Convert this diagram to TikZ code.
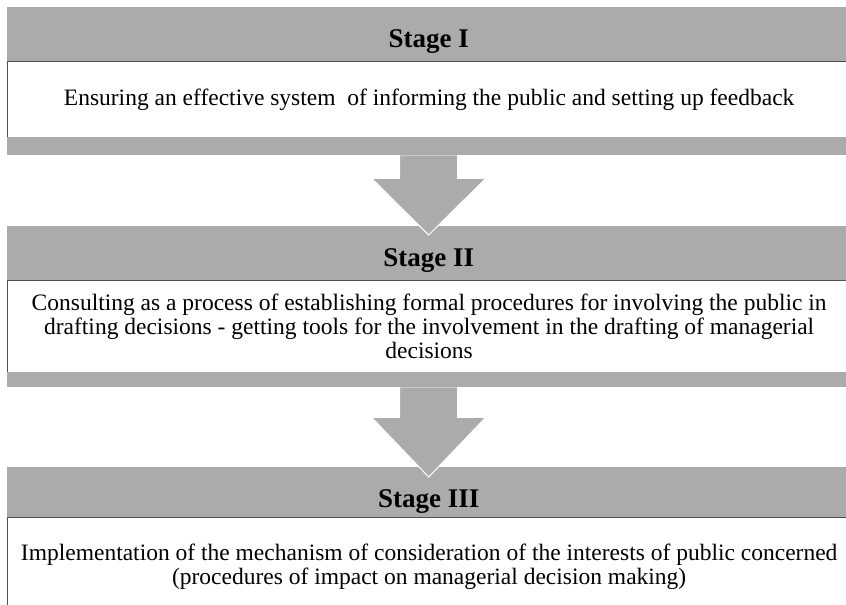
\documentclass[tikz,border=0pt]{standalone}
\usepackage{fontspec}
\setmainfont{Liberation Serif}
\usepackage{xcolor}
\usetikzlibrary{positioning,calc}

\definecolor{bandgray}{HTML}{ABABAB}
\definecolor{edgegray}{HTML}{505050}

\tikzset{
	header/.style={fill=bandgray,draw=none,anchor=north west,minimum width=843pt,inner sep=0pt,text height=27pt,text depth=0pt,font=\fontsize{27}{30}\selectfont\bfseries},
	stagebox/.style={fill=white,draw=edgegray,line width=1.3pt,anchor=north west,minimum width=843pt,inner sep=0pt,align=center,font=\fontsize{23.5}{24}\selectfont},
	strip/.style={fill=bandgray,draw=none,anchor=north west,minimum width=843pt,inner sep=0pt},
	downarrow/.style={fill=bandgray,draw=white,line width=1pt,line join=miter}
}

\begin{document}
\begin{tikzpicture}[x=1pt,y=-1pt]
	\useasboundingbox[fill=white] (0,0) rectangle (846,605);
	% stage I
	\node[header,minimum height=54pt] (h1) at (7,7) {Stage I};
	\node[stagebox,minimum height=76pt] (b1) at (7,61) {Ensuring an effective system\ \ of informing the public and setting up feedback};
	\node[strip,minimum height=18pt] (s1) at (7,137) {};
	% stage II
	\node[header,minimum height=54pt] (h2) at (7,226) {Stage II};
	\node[stagebox,minimum height=92pt] (b2) at (7,280) {Consulting as a process of establishing formal procedures for involving the public in\\drafting decisions - getting tools for the involvement in the drafting of managerial\\decisions};
	\node[strip,minimum height=15pt] (s2) at (7,372) {};
	% stage III
	\node[header,minimum height=50pt,text height=30pt] (h3) at (7,467) {Stage III};
	\node[stagebox,minimum height=98pt] (b3) at (7,517) {Implementation of the mechanism of consideration of the interests of public concerned\\(procedures of impact on managerial decision making)};
	% arrows
	\fill[bandgray] ($(s1.south)+(-29,0)$) -- ++(0,23) -- ++(-28,0) -- ($(h2.north)+(0,9)$) -- ($(s1.south)+(57,23)$) -- ++(-28,0) -- cycle;
	\draw[downarrow] ($(s1.south)+(-29,0)$) -- ++(0,23) -- ++(-28,0) -- ($(h2.north)+(0,9)$) -- ($(s1.south)+(57,23)$) -- ++(-28,0) -- ++(0,-23);
	\fill[bandgray] ($(s2.south)+(-29,0)$) -- ++(0,30) -- ++(-28,0) -- ($(h3.north)+(0,10)$) -- ($(s2.south)+(57,30)$) -- ++(-28,0) -- cycle;
	\draw[downarrow] ($(s2.south)+(-29,0)$) -- ++(0,30) -- ++(-28,0) -- ($(h3.north)+(0,10)$) -- ($(s2.south)+(57,30)$) -- ++(-28,0) -- ++(0,-30);
\end{tikzpicture}
\end{document}
